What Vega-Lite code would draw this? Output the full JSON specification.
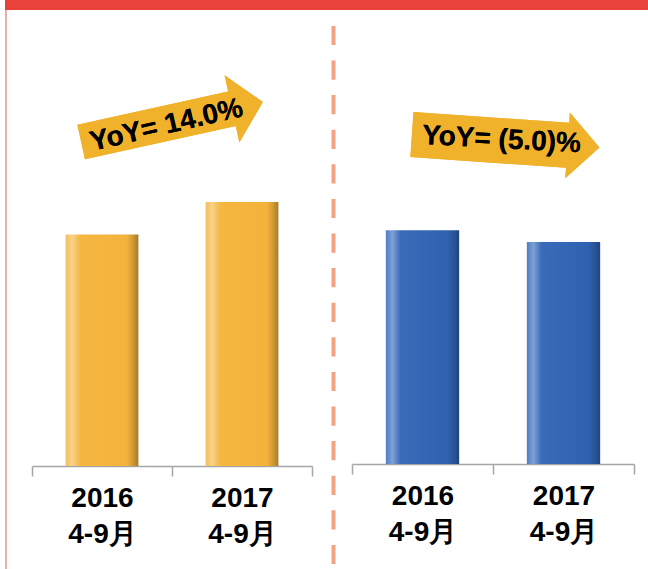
{
  "$schema": "https://vega.github.io/schema/vega-lite/v6.json",
  "padding": {"left": 5, "top": 0, "right": 0, "bottom": 0},
  "background": "white",
  "spacing": 0,
  "config": {"view": {"stroke": null}, "font": "Liberation Sans"},
  "vconcat": [
    {
      "width": 643,
      "height": 10,
      "view": {"fill": "#E8423A", "stroke": null},
      "data": {"values": []},
      "mark": "point",
      "encoding": {}
    },
    {
      "spacing": 24,
      "hconcat": [
        {
          "width": 2,
          "height": 559,
          "view": {"fill": "#E6B0B0", "stroke": null},
          "data": {"values": []},
          "mark": "point",
          "encoding": {}
        },
        {
          "spacing": 20,
          "hconcat": [
            {
              "width": 280,
              "height": 559,
              "data": {"values": [
                {"label": "2016 4-9月", "value": 100},
                {"label": "2017 4-9月", "value": 114}
              ]},
              "layer": [
                {
                  "mark": {
                    "type": "bar",
                    "width": {"band": 0.52},
                    "fill": {"gradient": "linear", "x1": 0, "y1": 0, "x2": 1, "y2": 0, "stops": [
                      {"offset": 0, "color": "#F4BF5C"},
                      {"offset": 0.09, "color": "#F8D28A"},
                      {"offset": 0.2, "color": "#F5B740"},
                      {"offset": 0.84, "color": "#F4B23B"},
                      {"offset": 0.92, "color": "#D29C34"},
                      {"offset": 1, "color": "#A67A26"}
                    ]}
                  },
                  "encoding": {
                    "x": {
                      "field": "label", "type": "nominal", "sort": null,
                      "scale": {"paddingInner": 0, "paddingOuter": 0},
                      "axis": {
                        "title": null, "offset": -103, "grid": false,
                        "domainColor": "#A6A6A6", "domainWidth": 1.5,
                        "tickColor": "#A6A6A6", "tickWidth": 1.5, "tickSize": 10, "tickBand": "extent",
                        "labelAngle": 0, "labelExpr": "split(datum.label, ' ')",
                        "labelFont": "Liberation Sans", "labelFontSize": 28, "labelFontWeight": "bold",
                        "labelColor": "black", "labelPadding": 8, "labelLineHeight": 36, "labelBaseline": "top"
                      }
                    },
                    "y": {"field": "value", "type": "quantitative", "scale": {"domain": [-44.5, 197], "nice": false, "zero": false}, "axis": null},
                    "y2": {"datum": 0}
                  }
                },
                {
                  "mark": {"type": "point", "shape": "M-1,-0.19L0.66,-0.19L0.66,-0.37L1,0L0.66,0.37L0.66,0.19L-1,0.19Z", "size": 34596, "angle": -12.4, "filled": true, "fill": "#F1B22B", "opacity": 1, "strokeWidth": 0},
                  "encoding": {"x": {"datum": "2017 4-9月", "type": "nominal", "bandPosition": 0}, "y": {"datum": 148.6, "type": "quantitative"}}
                },
                {
                  "mark": {"type": "text", "text": "YoY= 14.0%", "angle": -13, "fontSize": 28, "fontWeight": "bold", "font": "Liberation Sans", "color": "black", "align": "center", "baseline": "middle"},
                  "encoding": {"x": {"datum": "2016 4-9月", "type": "nominal", "bandPosition": 0.96}, "y": {"datum": 147, "type": "quantitative"}}
                }
              ]
            },
            {
              "width": 282,
              "height": 559,
              "data": {"values": [
                {"label": "2016 4-9月", "value": 100},
                {"label": "2017 4-9月", "value": 95}
              ]},
              "layer": [
                {
                  "mark": {
                    "type": "bar",
                    "width": {"band": 0.52},
                    "fill": {"gradient": "linear", "x1": 0, "y1": 0, "x2": 1, "y2": 0, "stops": [
                      {"offset": 0, "color": "#4F7EC4"},
                      {"offset": 0.09, "color": "#7EA0D7"},
                      {"offset": 0.2, "color": "#3A6BB9"},
                      {"offset": 0.84, "color": "#2E61B0"},
                      {"offset": 0.92, "color": "#2A5699"},
                      {"offset": 1, "color": "#1E4585"}
                    ]}
                  },
                  "encoding": {
                    "x": {
                      "field": "label", "type": "nominal", "sort": null,
                      "scale": {"paddingInner": 0, "paddingOuter": 0},
                      "axis": {
                        "title": null, "offset": -105, "grid": false,
                        "domainColor": "#A6A6A6", "domainWidth": 1.5,
                        "tickColor": "#A6A6A6", "tickWidth": 1.5, "tickSize": 10, "tickBand": "extent",
                        "labelAngle": 0, "labelExpr": "split(datum.label, ' ')",
                        "labelFont": "Liberation Sans", "labelFontSize": 28, "labelFontWeight": "bold",
                        "labelColor": "black", "labelPadding": 8, "labelLineHeight": 36, "labelBaseline": "top"
                      }
                    },
                    "y": {
                      "field": "value", "type": "quantitative",
                      "scale": {"domain": [-44.93, 194.27], "nice": false, "zero": false},
                      "axis": {
                        "orient": "left", "offset": 19, "title": null, "grid": false, "ticks": false, "labels": false,
                        "domainColor": "#F5A284", "domainWidth": 4, "domainDash": [19.2, 15.4], "domainDashOffset": 29.2
                      }
                    },
                    "y2": {"datum": 0}
                  }
                },
                {
                  "mark": {"type": "point", "shape": "M-1,-0.24L0.66,-0.24L0.66,-0.35L1,0L0.66,0.35L0.66,0.24L-1,0.24Z", "size": 35344, "angle": 4, "filled": true, "fill": "#F1B22B", "opacity": 1, "strokeWidth": 0},
                  "encoding": {"x": {"datum": "2017 4-9月", "type": "nominal", "bandPosition": 0.09}, "y": {"datum": 138.2, "type": "quantitative"}}
                },
                {
                  "mark": {"type": "text", "text": "YoY= (5.0)%", "angle": 3, "fontSize": 28, "fontWeight": "bold", "font": "Liberation Sans", "color": "black", "align": "center", "baseline": "middle"},
                  "encoding": {"x": {"datum": "2017 4-9月", "type": "nominal", "bandPosition": 0.06}, "y": {"datum": 138.6, "type": "quantitative"}}
                }
              ]
            }
          ]
        }
      ]
    }
  ]
}
